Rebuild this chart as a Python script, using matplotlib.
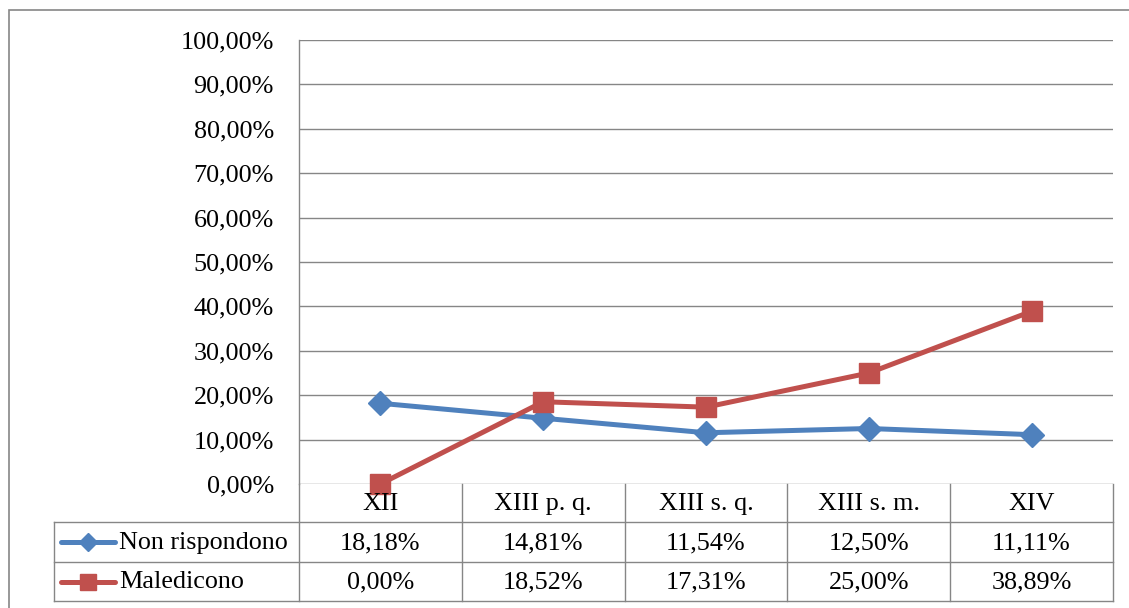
import matplotlib
matplotlib.use("Agg")
import matplotlib.pyplot as plt
from matplotlib.lines import Line2D
from matplotlib.patches import Rectangle
from matplotlib.ticker import FuncFormatter, MultipleLocator

# Data
categories = ["XII", "XIII p. q.", "XIII s. q.", "XIII s. m.", "XIV"]
series_names = ["Non rispondono", "Maledicono"]
non_rispondono = [18.18, 14.81, 11.54, 12.50, 11.11]
maledicono = [0.00, 18.52, 17.31, 25.00, 38.89]
series_values = [non_rispondono, maledicono]

colors = ["#4F81BD", "#C0504D"]
markers = ["D", "s"]
marker_sizes = [12, 14]

W, H = 1129, 608
DPI = 100
FONT = "Liberation Serif"
FS = 18.8
GRID = "#868686"
LW = 3.6

plt.rcParams["font.family"] = [FONT, "DejaVu Serif"]

fig = plt.figure(figsize=(W / DPI, H / DPI), dpi=DPI)


def fx(px):
    return px / W


def fy(py):
    return 1 - py / H


# Plot area geometry (pixels)
left, right, top, bottom = 299, 1113, 40, 484
ax = fig.add_axes([fx(left), fy(bottom), fx(right - left), (bottom - top) / H])

x = list(range(len(categories)))
for vals, c, m, ms in zip(series_values, colors, markers, marker_sizes):
    ax.plot(x, vals, color=c, lw=LW, marker=m, markersize=ms,
            markerfacecolor=c, markeredgecolor=c, markeredgewidth=1,
            solid_capstyle="round", solid_joinstyle="round",
            zorder=3, clip_on=False)

ax.set_xlim(-0.5, len(categories) - 0.5)
ax.set_ylim(0, 100)
ax.yaxis.set_major_locator(MultipleLocator(10))
ax.yaxis.set_major_formatter(
    FuncFormatter(lambda v, _: f"{v:.2f}".replace(".", ",") + "%"))
ax.tick_params(axis="y", length=0, pad=18, labelsize=FS)
ax.set_xticks([])
for lab in ax.get_yticklabels():
    lab.set_fontfamily(FONT)
ax.grid(axis="y", color=GRID, lw=1)
ax.set_axisbelow(True)
for side in ["top", "right", "bottom"]:
    ax.spines[side].set_visible(False)
ax.spines["left"].set_color(GRID)
ax.spines["left"].set_linewidth(1)
ax.patch.set_visible(False)

# Outer chart border
fig.add_artist(Rectangle((fx(9), fy(H + 10)), fx(W + 10), H / H,
                         transform=fig.transFigure, fill=False,
                         edgecolor=GRID, lw=1.2))


def hline(y, x0, x1):
    fig.add_artist(Line2D([fx(x0), fx(x1)], [fy(y)] * 2,
                          transform=fig.transFigure, color=GRID, lw=1))


def vline(xp, y0, y1):
    fig.add_artist(Line2D([fx(xp)] * 2, [fy(y0), fy(y1)],
                          transform=fig.transFigure, color=GRID, lw=1))


# Data table below the plot
table_left = 54
row_edges = [bottom, 522, 562, 601]
col_w = (right - left) / len(categories)
col_edges = [left + i * col_w for i in range(len(categories) + 1)]

hline(row_edges[1], table_left, right)
hline(row_edges[2], table_left, right)
hline(row_edges[3], table_left, right)
for xe in col_edges:
    vline(xe, row_edges[0], row_edges[3])
vline(table_left, row_edges[1], row_edges[3])

centers_x = [left + (i + 0.5) * col_w for i in range(len(categories))]
header_y = (row_edges[0] + row_edges[1]) / 2 + 1
for cx, cat in zip(centers_x, categories):
    fig.text(fx(cx), fy(header_y), cat, ha="center", va="center",
             fontsize=FS, family=FONT)

for r, (name, vals, c, m, ms) in enumerate(
        zip(series_names, series_values, colors, markers, marker_sizes)):
    cy = (row_edges[r + 1] + row_edges[r + 2]) / 2 + 1
    fig.add_artist(Line2D([fx(61), fx(115)], [fy(cy - 1)] * 2,
                          transform=fig.transFigure, color=c, lw=LW,
                          solid_capstyle="round"))
    fig.add_artist(Line2D([fx(88)], [fy(cy - 1)], transform=fig.transFigure,
                          marker=m, markersize=ms * 0.8, color=c,
                          markeredgecolor=c, lw=0))
    fig.text(fx(119), fy(cy), name, ha="left", va="center",
             fontsize=FS, family=FONT)
    for cx, v in zip(centers_x, vals):
        fig.text(fx(cx), fy(cy), f"{v:.2f}".replace(".", ",") + "%",
                 ha="center", va="center", fontsize=FS, family=FONT)

fig.savefig("out.png", dpi=DPI)
